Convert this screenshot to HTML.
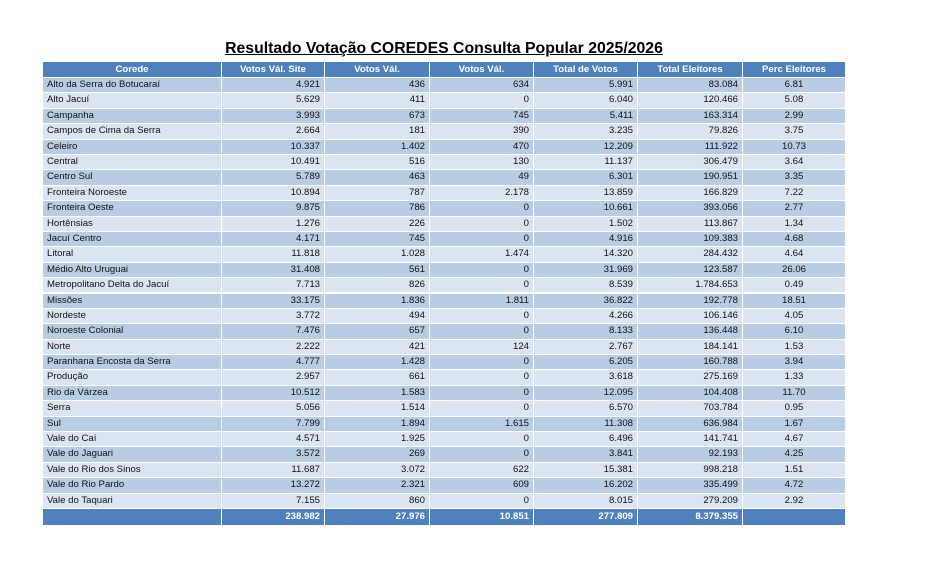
<!DOCTYPE html>
<html><head><meta charset="utf-8"><style>
body{margin:0;width:928px;height:584px;background:#fff;position:relative;overflow:hidden;font-family:"Liberation Sans",Arial,sans-serif}
#title{position:absolute;left:0;width:888px;top:40px;text-align:center;font-weight:bold;font-size:15.8px;text-decoration:underline;color:#000}
.c{position:absolute;box-sizing:border-box;font-size:9.6px;color:#111;line-height:15px;padding:0 4px;white-space:nowrap;overflow:hidden}
.h{background:#4f81bd;color:#fff;font-weight:bold;text-align:center}
.o{background:#b8cce4}.e{background:#dbe5f1}
.t{background:#4f81bd;color:#fff;font-weight:bold}
</style></head><body>
<div id="title">Resultado Votação COREDES Consulta Popular 2025/2026</div>
<div id="tbl"></div>
<script>
const headers=["Corede","Votos Vál. Site","Votos Vál.","Votos Vál.","Total de Votos","Total Eleitores","Perc Eleitores"];
const coredes=["Alto da Serra do Botucaraí","Alto Jacuí","Campanha","Campos de Cima da Serra","Celeiro","Central","Centro Sul","Fronteira Noroeste","Fronteira Oeste","Hortênsias","Jacuí Centro","Litoral","Médio Alto Uruguai","Metropolitano Delta do Jacuí","Missões","Nordeste","Noroeste Colonial","Norte","Paranhana Encosta da Serra","Produção","Rio da Várzea","Serra","Sul","Vale do Caí","Vale do Jaguari","Vale do Rio dos Sinos","Vale do Rio Pardo","Vale do Taquari"];
const votosSite=["4.921","5.629","3.993","2.664","10.337","10.491","5.789","10.894","9.875","1.276","4.171","11.818","31.408","7.713","33.175","3.772","7.476","2.222","4.777","2.957","10.512","5.056","7.799","4.571","3.572","11.687","13.272","7.155"];
const votosVal=["436","411","673","181","1.402","516","463","787","786","226","745","1.028","561","826","1.836","494","657","421","1.428","661","1.583","1.514","1.894","1.925","269","3.072","2.321","860"];
const votosVal2=["634","0","745","390","470","130","49","2.178","0","0","0","1.474","0","0","1.811","0","0","124","0","0","0","0","1.615","0","0","622","609","0"];
const totalVotos=["5.991","6.040","5.411","3.235","12.209","11.137","6.301","13.859","10.661","1.502","4.916","14.320","31.969","8.539","36.822","4.266","8.133","2.767","6.205","3.618","12.095","6.570","11.308","6.496","3.841","15.381","16.202","8.015"];
const totalEleitores=["83.084","120.466","163.314","79.826","111.922","306.479","190.951","166.829","393.056","113.867","109.383","284.432","123.587","1.784.653","192.778","106.146","136.448","184.141","160.788","275.169","104.408","703.784","636.984","141.741","92.193","998.218","335.499","279.209"];
const percEleitores=["6.81","5.08","2.99","3.75","10.73","3.64","3.35","7.22","2.77","1.34","4.68","4.64","26.06","0.49","18.51","4.05","6.10","1.53","3.94","1.33","11.70","0.95","1.67","4.67","4.25","1.51","4.72","2.92"];
const totals=["","238.982","27.976","10.851","277.809","8.379.355",""];
const colX=[43,222,325,430,534,638,743,846];
const names=["corede","votos-val-site","votos-val","votos-val-2","total-votos","total-eleitores","perc-eleitores"];
const tbl=document.getElementById('tbl');
function cell(x,y,w,h,txt,cls,align,name){
  const d=document.createElement('div');
  
  
  d.className='c '+cls;
  d.style.left=x+'px';d.style.top=y+'px';d.style.width=w+'px';d.style.height=h+'px';d.style.lineHeight=h+'px';
  if(align)d.style.textAlign=align;
  d.textContent=txt;tbl.appendChild(d);
}
const top0=62,hH=16,rowH=(509-78)/28;
for(let j=0;j<7;j++)cell(colX[j],top0,colX[j+1]-colX[j]-1,hH-1,headers[j],'h','center','header-'+names[j]);
const cols=[coredes,votosSite,votosVal,votosVal2,totalVotos,totalEleitores,percEleitores];
for(let i=0;i<coredes.length;i++){
  const y=78+i*rowH;
  for(let j=0;j<7;j++){
    const al=j==0?'left':(j==6?'center':'right');
    cell(colX[j],y,colX[j+1]-colX[j]-1,rowH-1,cols[j][i],i%2==0?'o':'e',al,'cell-'+names[j]);
  }
}
const ty=78+coredes.length*rowH;
for(let j=0;j<7;j++)cell(colX[j],ty,colX[j+1]-colX[j]-1,16,totals[j],'t',j==0?'left':'right','total-'+names[j]);
</script>
</body></html>
